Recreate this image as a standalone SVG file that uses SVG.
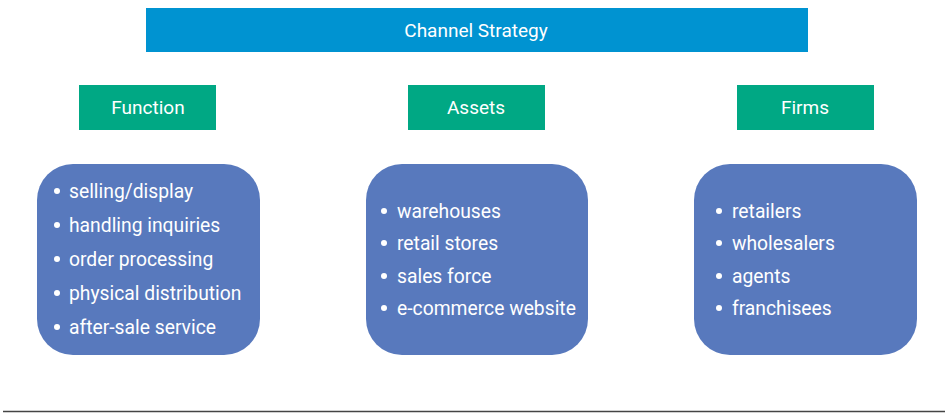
<svg xmlns="http://www.w3.org/2000/svg" width="947" height="413" viewBox="0 0 947 413">
<style>
.t{font-family:Roboto,"Liberation Sans",sans-serif;fill:#fff}
.hd{font-size:19px;text-anchor:middle}
.it{font-size:19.3px}
.g{fill:#00A884}
.b{fill:#5879BD}
.d{fill:#fff}
</style>
<rect width="947" height="413" fill="#fff"/>
<g id="title"><rect x="146" y="8" width="662" height="44" fill="#0093D1"/><text class="t hd" x="476" y="37">Channel Strategy</text></g>
<g id="function"><rect class="g" x="79" y="85" width="137" height="45"/><text class="t hd" x="148" y="114">Function</text></g>
<g id="assets"><rect class="g" x="408" y="85" width="137" height="45"/><text class="t hd" x="476" y="114">Assets</text></g>
<g id="firms"><rect class="g" x="737" y="85" width="137" height="45"/><text class="t hd" x="805" y="114">Firms</text></g>
<g id="function-list"><rect class="b" x="37" y="164" width="223" height="191" rx="36"/>
<circle class="d" cx="57" cy="191" r="3"/><text class="t it" x="69" y="198">selling/display</text>
<circle class="d" cx="57" cy="225" r="3"/><text class="t it" x="69" y="232">handling inquiries</text>
<circle class="d" cx="57" cy="259" r="3"/><text class="t it" x="69" y="266">order processing</text>
<circle class="d" cx="57" cy="293" r="3"/><text class="t it" x="69" y="300">physical distribution</text>
<circle class="d" cx="57" cy="327" r="3"/><text class="t it" x="69" y="334">after-sale service</text></g>
<g id="assets-list"><rect class="b" x="366" y="164" width="222" height="191" rx="36"/>
<circle class="d" cx="384" cy="211" r="3"/><text class="t it" x="397" y="218">warehouses</text>
<circle class="d" cx="384" cy="243" r="3"/><text class="t it" x="397" y="250">retail stores</text>
<circle class="d" cx="384" cy="276" r="3"/><text class="t it" x="397" y="283">sales force</text>
<circle class="d" cx="384" cy="308" r="3"/><text class="t it" x="397" y="315">e-commerce website</text></g>
<g id="firms-list"><rect class="b" x="694" y="164" width="223" height="191" rx="36"/>
<circle class="d" cx="719" cy="211" r="3"/><text class="t it" x="732" y="218">retailers</text>
<circle class="d" cx="719" cy="243" r="3"/><text class="t it" x="732" y="250">wholesalers</text>
<circle class="d" cx="719" cy="276" r="3"/><text class="t it" x="732" y="283">agents</text>
<circle class="d" cx="719" cy="308" r="3"/><text class="t it" x="732" y="315">franchisees</text></g>
<g id="connectors"></g>
<line x1="3" y1="411.5" x2="945" y2="411.5" stroke="#444" stroke-width="1.5"/>
</svg>
